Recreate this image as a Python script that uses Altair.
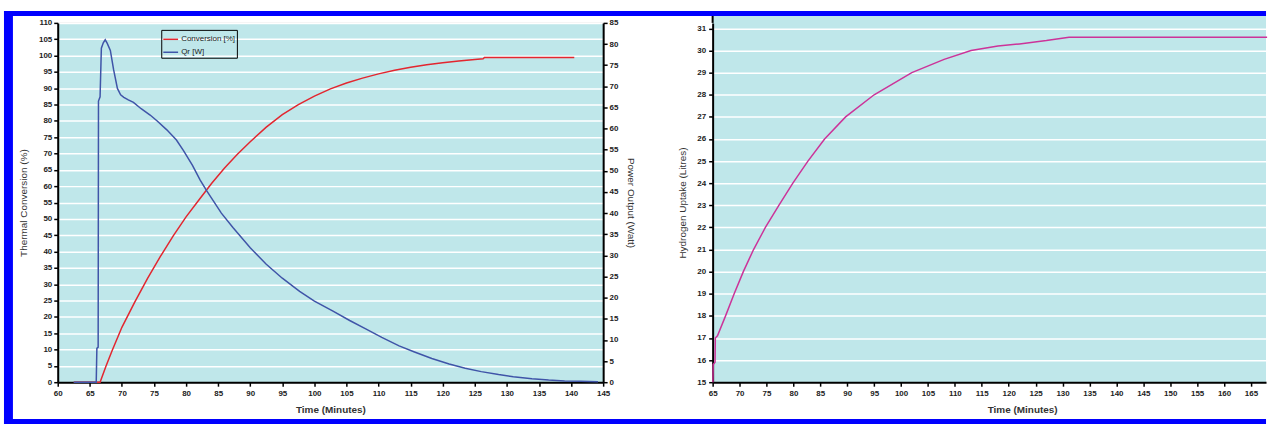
import altair as alt
import pandas as pd

# ---------------- data ----------------
conv_time = [62.5, 66.6, 67.5, 68.5, 70.0, 72.0, 74.0, 76.0, 78.0, 80.0, 82.0, 84.0,
             86.0, 88.0, 90.0, 92.5, 95.0, 97.5, 100.0, 102.5, 105.0, 107.5, 110.0,
             112.5, 115.0, 117.5, 120.0, 122.5, 125.0, 126.3, 126.5, 140.5]
conv_vals = [0, 0, 4.8, 9.8, 16.8, 24.5, 31.8, 38.5, 44.8, 50.6, 55.8, 60.9,
             65.6, 69.8, 73.6, 78.1, 81.9, 85.0, 87.6, 89.8, 91.6, 93.1, 94.4,
             95.5, 96.4, 97.2, 97.8, 98.3, 98.8, 99.0, 99.4, 99.4]

qr_time = [62.5, 66.0, 66.1, 66.3, 66.35, 66.6, 66.8, 67.1, 67.4, 67.7, 68.2, 68.7,
           69.3, 69.8, 70.3, 71.0, 71.8, 73.0, 74.4, 75.5, 77.0, 78.5, 79.6, 81.0,
           82.2, 83.2, 84.2, 85.5, 87.3, 90.0, 92.5, 95.0, 97.7, 100.0, 102.9, 105.5,
           108.0, 110.5, 113.2, 115.5, 118.3, 121.0, 123.5, 126.0, 128.7, 131.0,
           133.9, 136.5, 139.0, 141.5, 144.2]
qr_vals = [0, 0, 8.0, 8.3, 66.5, 67.5, 79.0, 80.3, 81.0, 80.2, 78.5, 74.0,
           69.5, 68.0, 67.4, 66.8, 66.2, 64.7, 63.2, 61.8, 59.7, 57.3, 54.8, 51.3,
           47.8, 45.3, 43.0, 40.0, 36.6, 31.8, 27.9, 24.6, 21.5, 19.2, 16.8, 14.6,
           12.6, 10.6, 8.6, 7.2, 5.6, 4.3, 3.3, 2.5, 1.8, 1.3,
           0.8, 0.5, 0.3, 0.2, 0.1]

h2_time = [65.05, 65.1, 65.45, 65.5, 65.9, 67.4, 69.0, 70.7, 72.6, 74.8, 77.3, 79.9,
           82.7, 85.8, 89.7, 95.0, 102.0, 108.0, 113.0, 118.0, 122.0, 127.0, 131.2, 168.0]
h2_vals = [15.0, 15.8, 15.9, 17.0, 17.1, 18.0, 19.0, 20.0, 21.0, 22.0, 23.0, 24.0,
           25.0, 26.0, 27.0, 28.0, 29.0, 29.6, 30.0, 30.2, 30.3, 30.45, 30.6, 30.6]

series_names = ["Conversion [%]", "Qr [W]"]
left_x_ticks = list(range(60, 146, 5))
left_y_ticks = list(range(0, 111, 5))
power_ticks = list(range(0, 86, 5))
right_x_ticks = list(range(65, 166, 5))
right_y_ticks = list(range(15, 32, 1))

# ---------------- styling ----------------
CYAN = "#BFE7EA"
FRAME = "#0000FF"
RED = "#E3262F"
BLUE = "#3F54A8"
MAGENTA = "#CC3399"
FONT = "Liberation Sans"

conv_df = pd.DataFrame({"t": conv_time, "v": conv_vals, "series": series_names[0]})
qr_df = pd.DataFrame({"t": qr_time, "w": qr_vals, "series": series_names[1]})
h2_df = pd.DataFrame({"t": h2_time, "h": h2_vals})
one = pd.DataFrame({"d": [0]})

axis_common = dict(
    domainColor="black", domainWidth=2, tickColor="black", tickWidth=1.5, tickSize=4,
    labelFont=FONT, labelFontSize=8, labelFontWeight="bold", labelColor="#222",
    titleFont=FONT, titleFontSize=10, titleColor="#333", labelFlush=False,
    labelOverlap=False,
)

color = alt.Color(
    "series:N",
    scale=alt.Scale(domain=series_names, range=[RED, BLUE]),
    legend=alt.Legend(
        title=None, orient="none", legendX=104, legendY=7,
        strokeColor="black", padding=1, rowPadding=0,
        symbolType="stroke", symbolSize=220, symbolStrokeWidth=1.5,
        labelFont=FONT, labelFontSize=8, labelColor="#222", labelOffset=2,
    ),
)

x_left = alt.X(
    "t:Q",
    scale=alt.Scale(domain=[60, 145], nice=False, zero=False),
    axis=alt.Axis(values=left_x_ticks, title="Time (Minutes)", grid=False,
                  labelPadding=3, titlePadding=7, titleFontWeight="bold",
                  **axis_common),
)

conv_line = alt.Chart(conv_df).mark_line(strokeWidth=1.5).encode(
    x=x_left,
    y=alt.Y("v:Q", scale=alt.Scale(domain=[0, 110], nice=False),
            axis=alt.Axis(values=left_y_ticks, title="Thermal Conversion (%)",
                          grid=True, gridColor="white", gridWidth=1.5,
                          labelPadding=2, titlePadding=10, titleFontWeight="normal",
                          **axis_common)),
    color=color,
)

qr_line = alt.Chart(qr_df).mark_line(strokeWidth=1.5).encode(
    x=x_left,
    y=alt.Y("w:Q", scale=alt.Scale(domain=[0, 85], nice=False),
            axis=alt.Axis(orient="right", values=power_ticks, title="Power Output (Watt)",
                          grid=False, labelPadding=2, titlePadding=8,
                          titleFontWeight="normal", **axis_common)),
    color=color,
)

# decorative blue frame (left part)
frame_left = alt.Chart(one).mark_rect(color=FRAME).encode(
    x=alt.value(-54), x2=alt.value(-45), y=alt.value(-12), y2=alt.value(403))
frame_top_l = alt.Chart(one).mark_rect(color=FRAME).encode(
    x=alt.value(-54), x2=alt.value(612), y=alt.value(-12), y2=alt.value(-7))
frame_bot_l = alt.Chart(one).mark_rect(color=FRAME).encode(
    x=alt.value(-54), x2=alt.value(612), y=alt.value(398), y2=alt.value(403))

left = alt.layer(
    frame_left, frame_top_l, frame_bot_l, conv_line, qr_line
).resolve_scale(y="independent").properties(
    width=548, height=361,
    view=alt.ViewBackground(fill=CYAN, stroke="#888888", strokeWidth=1),
)

h2_line = alt.Chart(h2_df).mark_line(strokeWidth=1.5, color=MAGENTA).encode(
    x=alt.X("t:Q", scale=alt.Scale(domain=[65, 167.8], nice=False, zero=False),
            axis=alt.Axis(values=right_x_ticks, title="Time (Minutes)", grid=False,
                          labelPadding=3, titlePadding=7, titleX=311,
                          titleFontWeight="bold", **axis_common)),
    y=alt.Y("h:Q", scale=alt.Scale(domain=[15, 31.25], nice=False, zero=False),
            axis=alt.Axis(values=right_y_ticks, title="Hydrogen Uptake (Litres)",
                          grid=True, gridColor="white", gridWidth=1.5,
                          labelPadding=3, titlePadding=9, titleFontWeight="normal",
                          **axis_common)),
)

# cyan band continuing the plot background up to the frame, and frame bars (right part)
band_r = alt.Chart(one).mark_rect(color=CYAN).encode(
    x=alt.value(0), x2=alt.value(556), y=alt.value(-7), y2=alt.value(0))
axis_ext_r = alt.Chart(one).mark_rect(color="black").encode(
    x=alt.value(-1), x2=alt.value(1), y=alt.value(-7), y2=alt.value(0))
frame_top_r = alt.Chart(one).mark_rect(color=FRAME).encode(
    x=alt.value(-62), x2=alt.value(556), y=alt.value(-12), y2=alt.value(-7))
frame_bot_r = alt.Chart(one).mark_rect(color=FRAME).encode(
    x=alt.value(-62), x2=alt.value(556), y=alt.value(398), y2=alt.value(403))

right = alt.layer(band_r, axis_ext_r, frame_top_r, frame_bot_r, h2_line).properties(
    width=556, height=361,
    view=alt.ViewBackground(fill=CYAN, strokeWidth=0),
)

chart = alt.hconcat(left, right, spacing=110, bounds="flush").resolve_scale(
    color="independent"
).properties(
    padding={"left": 3, "top": 9, "right": 0, "bottom": 0},
    background="white",
)

chart.save("out.html", embed_options={"renderer": "svg", "actions": False})
